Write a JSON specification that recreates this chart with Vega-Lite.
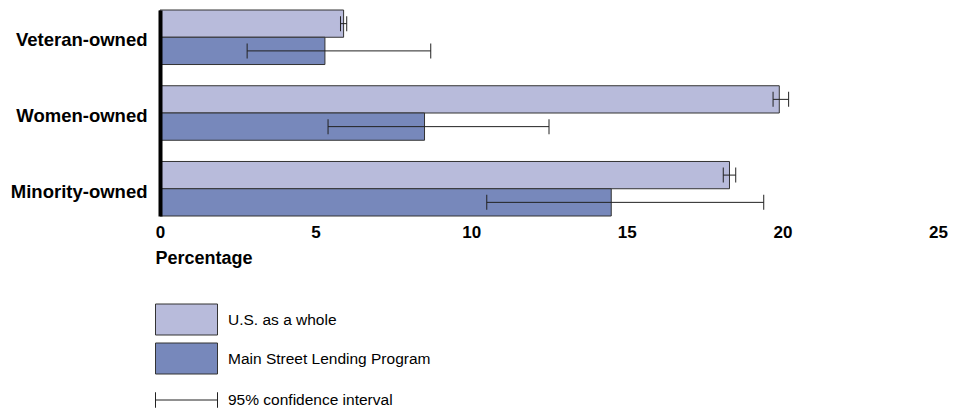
{
  "$schema": "https://vega.github.io/schema/vega-lite/v6.json",
  "autosize": {"type": "none"},
  "width": 778,
  "height": 206,
  "padding": {"left": 160, "top": 10, "right": 26, "bottom": 194},
  "background": "white",
  "config": {
    "view": {"stroke": null},
    "font": "Liberation Sans"
  },
  "data": {
    "values": [
      {"group": "Veteran-owned", "series": "U.S. as a whole", "value": 5.9, "lo": 5.8, "hi": 6.0},
      {"group": "Veteran-owned", "series": "Main Street Lending Program", "value": 5.3, "lo": 2.8, "hi": 8.7},
      {"group": "Women-owned", "series": "U.S. as a whole", "value": 19.9, "lo": 19.7, "hi": 20.2},
      {"group": "Women-owned", "series": "Main Street Lending Program", "value": 8.5, "lo": 5.4, "hi": 12.5},
      {"group": "Minority-owned", "series": "U.S. as a whole", "value": 18.3, "lo": 18.1, "hi": 18.5},
      {"group": "Minority-owned", "series": "Main Street Lending Program", "value": 14.5, "lo": 10.5, "hi": 19.4}
    ]
  },
  "encoding": {
    "y": {
      "field": "group",
      "type": "nominal",
      "sort": null,
      "scale": {"paddingInner": 0.28, "paddingOuter": 0},
      "axis": {
        "title": null,
        "ticks": false,
        "domain": true,
        "domainColor": "black",
        "domainWidth": 4,
        "zindex": 1,
        "labelFont": "Liberation Sans",
        "labelFontWeight": "bold",
        "labelFontSize": 18.5,
        "labelColor": "black",
        "labelPadding": 13,
        "labelOffset": 3,
        "labelLimit": 300
      }
    },
    "yOffset": {
      "field": "series",
      "type": "nominal",
      "sort": ["U.S. as a whole", "Main Street Lending Program"],
      "scale": {"paddingInner": 0, "paddingOuter": 0}
    }
  },
  "layer": [
    {
      "mark": {"type": "bar", "stroke": "#333333", "strokeWidth": 1},
      "encoding": {
        "x": {
          "field": "value",
          "type": "quantitative",
          "scale": {"domain": [0, 25], "nice": false},
          "axis": {
            "values": [0, 5, 10, 15, 20, 25],
            "grid": false,
            "domain": false,
            "ticks": false,
            "labelFont": "Liberation Sans",
            "labelFontWeight": "bold",
            "labelFontSize": 17,
            "labelColor": "black",
            "labelPadding": 8,
            "labelFlush": false,
            "title": "Percentage",
            "titleFont": "Liberation Sans",
            "titleFontWeight": "bold",
            "titleFontSize": 18,
            "titleColor": "black",
            "titleAnchor": "start",
            "titleAlign": "left",
            "titleX": -5,
            "titlePadding": 9
          }
        },
        "fill": {
          "field": "series",
          "type": "nominal",
          "sort": ["U.S. as a whole", "Main Street Lending Program"],
          "scale": {"range": ["#b8bbdb", "#7788bb"]},
          "legend": {
            "title": null,
            "orient": "none",
            "legendX": 10.5,
            "legendY": 293.5,
            "padding": 0,
            "symbolType": "M-2,-1H2V1H-2Z",
            "symbolSize": 961,
            "symbolStrokeColor": "#333333",
            "symbolStrokeWidth": 1,
            "symbolOpacity": 1,
            "labelOffset": 25.5,
            "labelFont": "Liberation Sans",
            "labelFontSize": 15.5,
            "labelColor": "black",
            "labelLimit": 400,
            "rowPadding": 3,
            "encode": {"symbols": {"update": {"stroke": {"value": "#333333"}, "strokeWidth": {"value": 1}}}}
          }
        }
      }
    },
    {
      "mark": {"type": "rule", "strokeWidth": 1},
      "encoding": {
        "x": {"field": "lo", "type": "quantitative"},
        "x2": {"field": "hi"},
        "stroke": {
          "datum": "95% confidence interval",
          "type": "nominal",
          "scale": {"range": ["#222222"]},
          "legend": {
            "title": null,
            "orient": "none",
            "legendX": 10.5,
            "legendY": 374,
            "padding": 0,
            "symbolType": "M-2,-0.5V0.5M-2,0H2M2,-0.5V0.5",
            "symbolSize": 961,
            "symbolFillColor": "transparent",
            "symbolStrokeWidth": 1,
            "labelOffset": 25.5,
            "labelFont": "Liberation Sans",
            "labelFontSize": 15.5,
            "labelColor": "black",
            "labelLimit": 400
          }
        }
      }
    },
    {
      "mark": {"type": "tick", "thickness": 1, "size": 15, "color": "#222222", "opacity": 1},
      "encoding": {
        "x": {"field": "lo", "type": "quantitative"}
      }
    },
    {
      "mark": {"type": "tick", "thickness": 1, "size": 15, "color": "#222222", "opacity": 1},
      "encoding": {
        "x": {"field": "hi", "type": "quantitative"}
      }
    }
  ]
}
